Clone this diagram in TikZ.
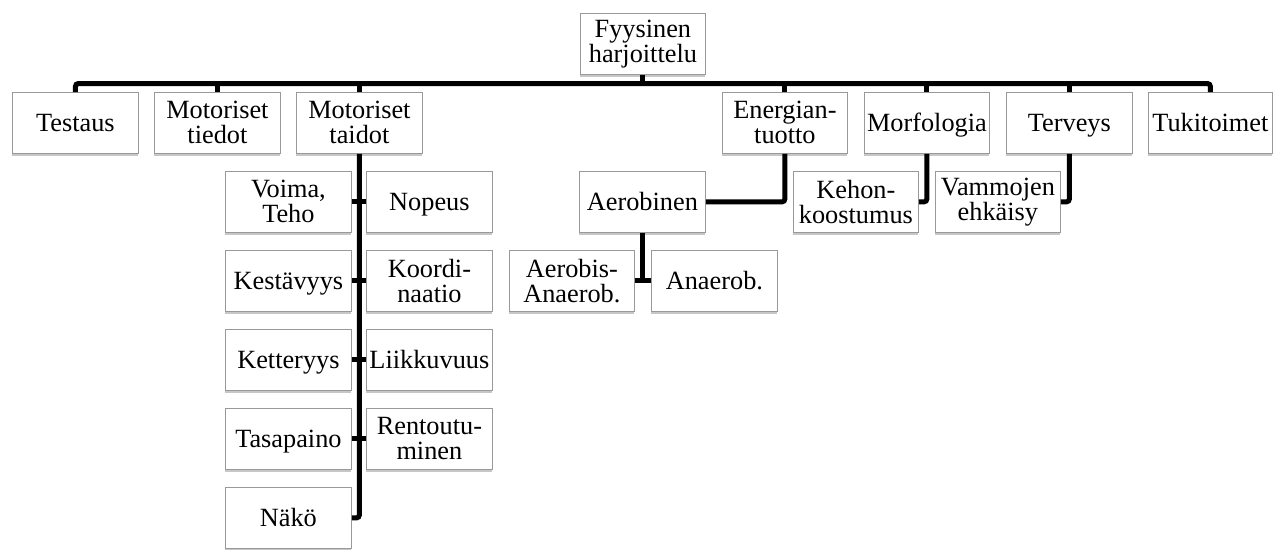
\documentclass[tikz,border=0pt]{standalone}
\usepackage{fontspec}
\setmainfont{Liberation Serif}
\usetikzlibrary{shadows,calc}
\tikzset{
  box/.style={draw=black!40, line width=0.8pt, fill=white, minimum width=126pt, minimum height=61pt,
    inner sep=0pt, align=center, anchor=north west,
    font=\fontsize{26.3pt}{25pt}\selectfont,
    drop shadow={shadow xshift=0pt, shadow yshift=-2.5pt, fill=black, opacity=0.22}},
  one/.style={text height=18pt, text depth=0pt},
  conn/.style={line width=5pt, draw=black, rounded corners=3pt}
}
\begin{document}
\begin{tikzpicture}[x=1pt,y=-1pt]
\useasboundingbox (0,0) rectangle (1273,549);
% root
\node[box, minimum width=125pt] (root) at (580,13) {Fyysinen\\harjoittelu};
% level 1
\node[box, one] (test) at (12,92) {Testaus};
\node[box] (mtied) at (154,92) {Motoriset\\tiedot};
\node[box] (mtaid) at (296,92) {Motoriset\\taidot};
\node[box, minimum width=125pt] (energ) at (722,92) {Energian-\\tuotto};
\node[box, one, minimum width=125pt] (morf) at (864,92) {Morfologia};
\node[box, one] (terv) at (1006,92) {Terveys};
\node[box, one, minimum width=124pt] (tuki) at (1148,92) {Tukitoimet};
\coordinate (busy) at (0,83.5);
% motoriset taidot children
\node[box] (voima) at (225,171) {Voima,\\Teho};
\node[box, one] (nopeus) at (366,171) {Nopeus};
\node[box, one] (kest) at (225,250) {Kestävyys};
\node[box] (koord) at (366,250) {Koordi-\\naatio};
\node[box, one] (kett) at (225,329) {Ketteryys};
\node[box, one] (liik) at (366,329) {Liikkuvuus};
\node[box, one] (tasa) at (225,408) {Tasapaino};
\node[box] (rent) at (366,408) {Rentoutu-\\minen};
\node[box, one] (nako) at (225,487) {Näkö};
% energiantuotto
\node[box, one] (aerob) at (579,171) {Aerobinen};
\node[box, minimum width=125pt] (aean) at (509,250) {Aerobis-\\Anaerob.};
\node[box, one] (anae) at (651,250) {Anaerob.};
% morfologia, terveys
\node[box, minimum width=125pt] (kehon) at (793,171) {Kehon-\\koostumus};
\node[box, minimum width=125pt] (vamm) at (935,171) {Vammojen\\ehkäisy};
% connectors
\draw[conn] (test.north) -- (test.north |- busy) -| (tuki.north);
\draw[conn] (root.south) -- (root.south |- busy);
\foreach \n in {mtied,mtaid,energ,morf,terv}
  \draw[conn] (\n.north) -- (\n.north |- busy);
\draw[conn] (mtaid.south) |- (nako.east);
\draw[conn] (voima.east) -- (nopeus.west |- voima.east);
\draw[conn] (kest.east) -- (koord.west |- kest.east);
\draw[conn] (kett.east) -- (liik.west |- kett.east);
\draw[conn] (tasa.east) -- (rent.west |- tasa.east);
\draw[conn] (energ.south) |- (aerob.east);
\draw[conn] (aerob.south) -- (aerob.south |- aean.east);
\draw[conn] (aean.east) -- (anae.west);
\draw[conn] (morf.south) |- (kehon.east);
\draw[conn] (terv.south) |- (vamm.east);
\end{tikzpicture}
\end{document}
